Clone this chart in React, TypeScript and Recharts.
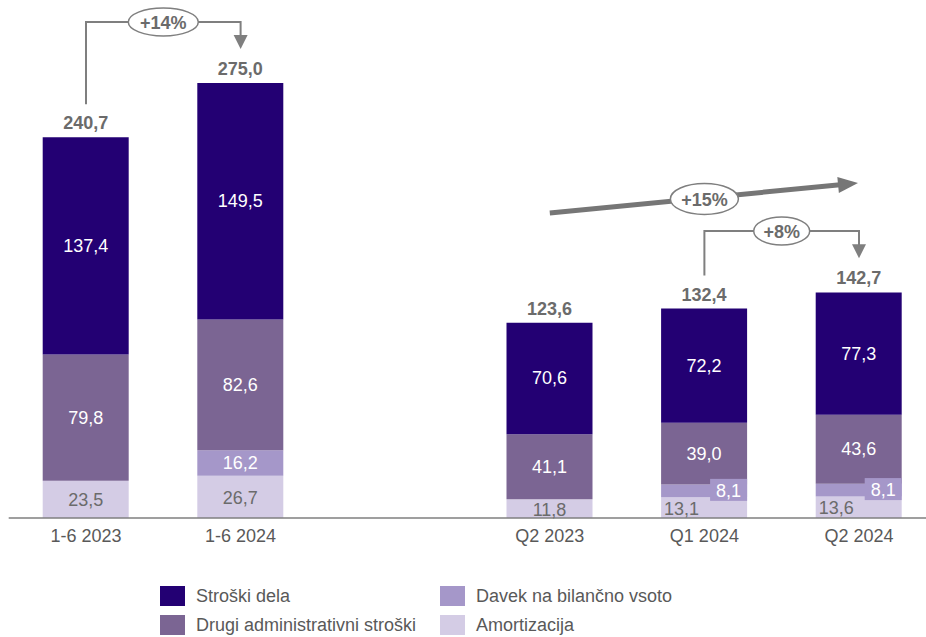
import React from "react";
import { BarChart, Bar, XAxis, YAxis, LabelList } from "recharts";

const categories = ["1-6 2023", "1-6 2024", "", "Q2 2023", "Q1 2024", "Q2 2024"];
const strosjiDela = [137.4, 149.5, 0, 70.6, 72.2, 77.3];
const drugiAdmin = [79.8, 82.6, 0, 41.1, 39.0, 43.6];
const davekBilanca = [0, 16.2, 0, 0, 8.1, 8.1];
const amortizacija = [23.5, 26.7, 0, 11.8, 13.1, 13.6];
const totals: (number | null)[] = [240.7, 275.0, null, 123.6, 132.4, 142.7];
const seriesNames = ["Stroški dela", "Drugi administrativni stroški", "Davek na bilančno vsoto", "Amortizacija"];
const growthLabels = ["+14%", "+15%", "+8%"];

const C_DELA = "#230073";
const C_DRUGI = "#7b6593";
const C_DAVEK = "#a597c9";
const C_AMORT = "#d4cce5";
const GREY = "#6b6b6b";
const LINE = "#7f7f7f";
const FONT = "'Liberation Sans', Arial, sans-serif";
const FS = 18;

const data = categories.map((name, i) => ({
  name,
  dela: strosjiDela[i],
  drugi: drugiAdmin[i],
  davek: davekBilanca[i],
  amort: amortizacija[i],
  total: totals[i],
}));

const W = 926;
const H = 637;
const M = { top: 43.5, left: 8.7, right: -10.3, bottom: 89 };
const Y_MAX = 300;
const BASE_Y = 518;
const BAND = (W - M.left - M.right) / categories.length;
const xc = (i: number) => M.left + (i + 0.5) * BAND;
const yv = (v: number) => BASE_Y - (v * (BASE_Y - M.top)) / Y_MAX;
const catIndex = (x: number, width: number) => Math.round((x + width / 2 - M.left) / BAND - 0.5);

const fmt = (v: number) => v.toFixed(1).replace(".", ",");
const smallDavek = (i: number) => davekBilanca[i] > 0 && davekBilanca[i] < 12;

const CenterLabel = (color: string) => (props: any) => {
  const { x, y, width, height, value } = props;
  if (!value) return null;
  return (
    <text x={x + width / 2} y={y + height / 2} fill={color} fontSize={FS} fontFamily={FONT} textAnchor="middle" dominantBaseline="central">
      {fmt(value)}
    </text>
  );
};

const AmortLabel = (props: any) => {
  const { x, y, width, height, value } = props;
  if (!value) return null;
  const shifted = smallDavek(catIndex(x, width));
  return (
    <text
      x={shifted ? x + 3 : x + width / 2}
      y={y + height / 2 + 1}
      fill={GREY}
      fontSize={FS}
      fontFamily={FONT}
      textAnchor={shifted ? "start" : "middle"}
      dominantBaseline="central"
    >
      {fmt(value)}
    </text>
  );
};

const DavekLabel = (props: any) => {
  const { x, y, width, height, value } = props;
  if (!value) return null;
  const cy = y + height / 2;
  if (smallDavek(catIndex(x, width))) {
    const bw = 37;
    const bh = 22;
    return (
      <g>
        <rect x={x + width - bw} y={cy - bh / 2 - 1} width={bw} height={bh} fill={C_DAVEK} />
        <text x={x + width - bw / 2} y={cy} fill="#ffffff" fontSize={FS} fontFamily={FONT} textAnchor="middle" dominantBaseline="central">
          {fmt(value)}
        </text>
      </g>
    );
  }
  return (
    <text x={x + width / 2} y={cy} fill="#ffffff" fontSize={FS} fontFamily={FONT} textAnchor="middle" dominantBaseline="central">
      {fmt(value)}
    </text>
  );
};

const TotalLabel = (props: any) => {
  const { x, y, width } = props;
  const t = totals[catIndex(x, width)];
  if (t == null) return null;
  return (
    <text x={x + width / 2} y={y - 14} fill={GREY} fontSize={FS} fontWeight="bold" fontFamily={FONT} textAnchor="middle" dominantBaseline="central">
      {fmt(t)}
    </text>
  );
};

const Ellipse = ({ cx, cy, rx, ry, label }: { cx: number; cy: number; rx: number; ry: number; label: string }) => (
  <g>
    <ellipse cx={cx} cy={cy} rx={rx} ry={ry} fill="#ffffff" stroke={LINE} strokeWidth={1.5} />
    <text x={cx} y={cy + 1} fill={GREY} fontSize={FS} fontWeight="bold" fontFamily={FONT} textAnchor="middle" dominantBaseline="central">
      {label}
    </text>
  </g>
);

const Bracket = ({ i0, i1, topY, label, rx }: { i0: number; i1: number; topY: number; label: string; rx: number }) => {
  const x0 = xc(i0);
  const x1 = xc(i1);
  const y0 = yv(totals[i0] as number) - 33;
  const tip = yv(totals[i1] as number) - 34;
  return (
    <g>
      <polyline points={`${x0},${y0} ${x0},${topY} ${x1},${topY} ${x1},${tip - 12}`} fill="none" stroke={LINE} strokeWidth={2} />
      <polygon points={`${x1 - 7},${tip - 14} ${x1 + 7},${tip - 14} ${x1},${tip}`} fill={LINE} />
      <Ellipse cx={(x0 + x1) / 2} cy={topY} rx={rx} ry={14} label={label} />
    </g>
  );
};

const Annotations = () => {
  const ax0 = xc(3);
  const ay0 = 213;
  const ax1 = xc(5) - 1;
  const ay1 = 183;
  const len = Math.hypot(ax1 - ax0, ay1 - ay0);
  const ux = (ax1 - ax0) / len;
  const uy = (ay1 - ay0) / len;
  const hl = 20;
  const hw = 8;
  const bx = ax1 - ux * hl;
  const by = ay1 - uy * hl;
  const emx = xc(4);
  const emy = ay0 + (ay1 - ay0) * ((emx - ax0) / (ax1 - ax0)) + 1;
  return (
    <svg width={W} height={H} style={{ position: "absolute", left: 0, top: 0, pointerEvents: "none" }}>
      <Bracket i0={0} i1={1} topY={22} label={growthLabels[0]} rx={35} />
      <line x1={ax0} y1={ay0} x2={bx + ux * 2} y2={by + uy * 2} stroke="#767676" strokeWidth={5} />
      <polygon points={`${ax1},${ay1} ${bx - uy * hw},${by + ux * hw} ${bx + uy * hw},${by - ux * hw}`} fill="#767676" />
      <Ellipse cx={emx} cy={emy} rx={34} ry={15.5} label={growthLabels[1]} />
      <Bracket i0={4} i1={5} topY={231} label={growthLabels[2]} rx={28} />
    </svg>
  );
};

const legendItems = [
  { name: seriesNames[0], color: C_DELA, left: 160, top: 586 },
  { name: seriesNames[2], color: C_DAVEK, left: 440, top: 586 },
  { name: seriesNames[1], color: C_DRUGI, left: 160, top: 615 },
  { name: seriesNames[3], color: C_AMORT, left: 440, top: 615 },
];

const LegendBlock = () => (
  <div style={{ position: "absolute", left: 0, top: 0, width: W, height: H, pointerEvents: "none", fontFamily: FONT }}>
    {legendItems.map((it) => (
      <div key={it.name} style={{ position: "absolute", left: it.left, top: it.top, display: "flex", alignItems: "center", height: 20 }}>
        <div style={{ width: 25, height: 20, background: it.color }} />
        <span style={{ marginLeft: 11, fontSize: 18, color: "#595959", whiteSpace: "nowrap", lineHeight: "20px" }}>{it.name}</span>
      </div>
    ))}
  </div>
);

export default function App() {
  return (
    <div style={{ position: "absolute", left: 0, top: 0, width: W, height: H, overflow: "hidden", background: "#ffffff" }}>
      <BarChart width={W} height={H} data={data} margin={M} barSize={86}>
        <YAxis hide domain={[0, Y_MAX]} />
        <XAxis
          dataKey="name"
          interval={0}
          tickLine={false}
          axisLine={{ stroke: LINE, strokeWidth: 1.5 }}
          tick={{ fill: "#595959", fontSize: FS, fontFamily: FONT }}
          tickMargin={5}
          height={30}
        />
        <Bar dataKey="amort" stackId="a" fill={C_AMORT} isAnimationActive={false}>
          <LabelList dataKey="amort" content={AmortLabel} />
        </Bar>
        <Bar dataKey="davek" stackId="a" fill={C_DAVEK} isAnimationActive={false}>
          <LabelList dataKey="davek" content={DavekLabel} />
        </Bar>
        <Bar dataKey="drugi" stackId="a" fill={C_DRUGI} isAnimationActive={false}>
          <LabelList dataKey="drugi" content={CenterLabel("#ffffff")} />
        </Bar>
        <Bar dataKey="dela" stackId="a" fill={C_DELA} isAnimationActive={false}>
          <LabelList dataKey="dela" content={CenterLabel("#ffffff")} />
          <LabelList dataKey="dela" content={TotalLabel} />
        </Bar>
      </BarChart>
      <Annotations />
      <LegendBlock />
    </div>
  );
}
